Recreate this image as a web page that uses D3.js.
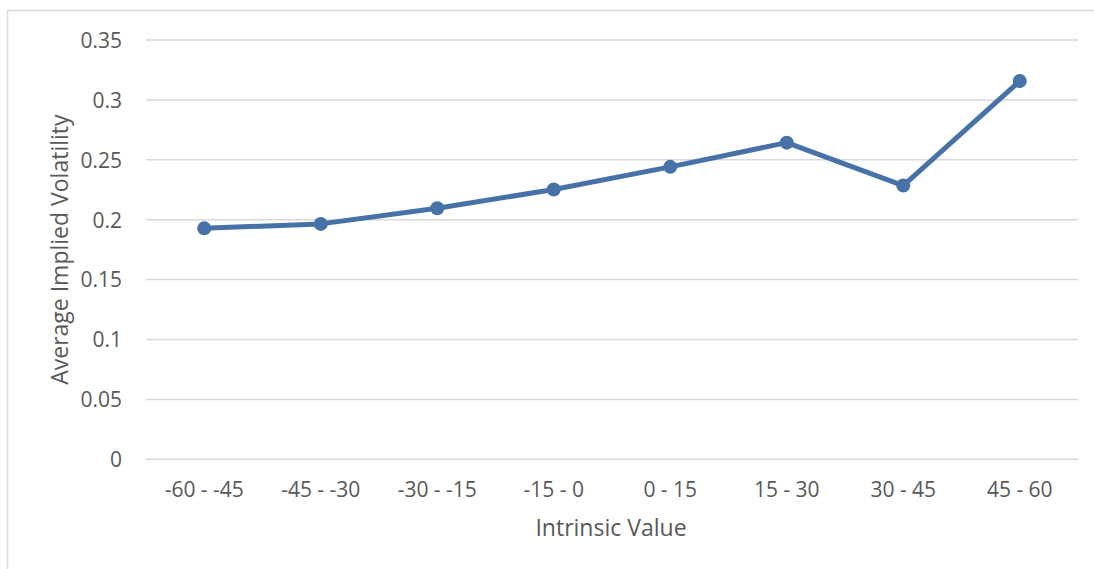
<!DOCTYPE html>
<html>
<head>
<meta charset="utf-8">
<script src="https://cdn.jsdelivr.net/npm/d3@7"></script>
<style>
  html, body { margin: 0; padding: 0; background: #fff; }
  svg { display: block; font-family: "Open Sans", "Liberation Sans", sans-serif; }
</style>
</head>
<body>
<svg id="chart" width="1094" height="569"></svg>
<script>
// Average implied volatility by intrinsic value bucket
const categories = ["-60 - -45", "-45 - -30", "-30 - -15", "-15 - 0", "0 - 15", "15 - 30", "30 - 45", "45 - 60"];
const volatility = [0.1928, 0.1965, 0.2095, 0.2252, 0.2441, 0.2643, 0.2285, 0.3158];
const yTicks = [0, 0.05, 0.1, 0.15, 0.2, 0.25, 0.3, 0.35];
const yTickLabels = ["0", "0.05", "0.1", "0.15", "0.2", "0.25", "0.3", "0.35"];

const svg = d3.select("#chart");
const W = 1094, H = 569;
const plot = { left: 146, right: 1078, top: 40, bottom: 459.3 };
const FONT = "'Open Sans', 'Liberation Sans', sans-serif";
const TEXT = "#595959";

// outer chart frame
svg.append("rect")
  .attr("x", 7.5).attr("y", 10.5)
  .attr("width", W + 20).attr("height", H + 20)
  .attr("fill", "none").attr("stroke", "#d9d9d9").attr("stroke-width", 1.5);

const x = d3.scaleBand().domain(categories).range([plot.left, plot.right]).padding(0);
const y = d3.scaleLinear().domain([0, 0.35]).range([plot.bottom, plot.top]);

// horizontal gridlines
svg.append("g")
  .selectAll("line")
  .data(yTicks)
  .join("line")
  .attr("x1", plot.left).attr("x2", plot.right)
  .attr("y1", d => y(d)).attr("y2", d => y(d))
  .attr("stroke", "#d9d9d9").attr("stroke-width", 1.5);

// y axis tick labels
const yAxis = d3.axisLeft(y).tickValues(yTicks)
  .tickFormat((d, i) => yTickLabels[i]).tickSize(0).tickPadding(0);
const gy = svg.append("g").attr("transform", `translate(122,0)`).call(yAxis);
gy.select(".domain").remove();
gy.selectAll("text")
  .attr("fill", TEXT).attr("font-size", "21px")
  .attr("font-family", FONT)
  .attr("dy", "0.35em");

// x axis tick labels
const xAxis = d3.axisBottom(x).tickSize(0).tickPadding(0);
const gx = svg.append("g").attr("transform", `translate(0,${plot.bottom})`).call(xAxis);
gx.select(".domain").remove();
gx.selectAll("text")
  .attr("fill", TEXT).attr("font-size", "21px")
  .attr("font-family", FONT)
  .attr("y", 30).attr("dy", "0.35em");

// axis titles
svg.append("text")
  .attr("x", 611).attr("y", 528)
  .attr("dy", "0.35em")
  .attr("text-anchor", "middle")
  .attr("fill", TEXT).attr("font-size", "23px")
  .text("Intrinsic Value");

svg.append("text")
  .attr("transform", `translate(60,${(plot.top + plot.bottom) / 2}) rotate(-90)`)
  .attr("dy", "0.35em")
  .attr("text-anchor", "middle")
  .attr("fill", TEXT).attr("font-size", "23px")
  .text("Average Implied Volatility");

// series line and markers
const cx = d => x(d) + x.bandwidth() / 2;
const pts = categories.map((c, i) => [cx(c), y(volatility[i])]);

svg.append("path")
  .attr("d", d3.line()(pts))
  .attr("fill", "none")
  .attr("stroke", "#4672a8")
  .attr("stroke-width", 5)
  .attr("stroke-linejoin", "round")
  .attr("stroke-linecap", "round");

svg.append("g")
  .selectAll("circle")
  .data(pts)
  .join("circle")
  .attr("cx", d => d[0]).attr("cy", d => d[1])
  .attr("r", 7)
  .attr("fill", "#4672a8");
</script>
</body>
</html>
